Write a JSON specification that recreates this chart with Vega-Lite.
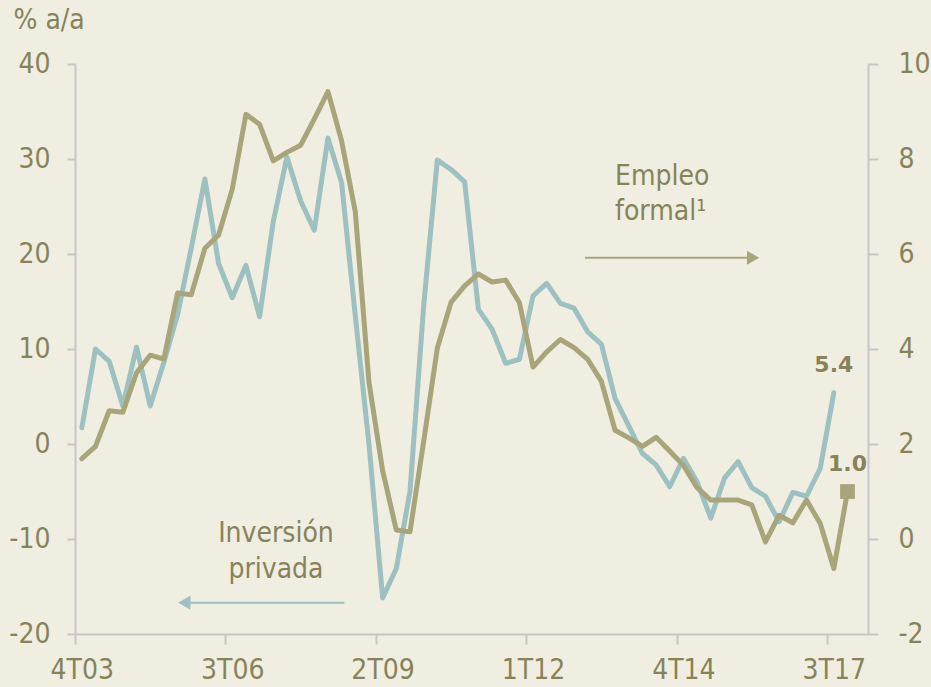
{
  "$schema": "https://vega.github.io/schema/vega-lite/v6.json",
  "width": 793,
  "height": 570,
  "autosize": "none",
  "padding": {"left": 75, "top": 64, "right": 63, "bottom": 53},
  "background": "#F0EEE1",
  "config": {
    "view": {"stroke": null},
    "font": "DejaVu Sans Condensed, DejaVu Sans",
    "axis": {
      "labelFont": "DejaVu Sans Condensed, DejaVu Sans",
      "labelFontSize": 28,
      "labelColor": "#86835A",
      "domainColor": "#C6C6C6",
      "tickColor": "#C6C6C6",
      "domainWidth": 2,
      "tickWidth": 2,
      "grid": false,
      "titleFont": "DejaVu Sans Condensed, DejaVu Sans",
      "titleFontWeight": "normal",
      "titleColor": "#86835A"
    }
  },
  "data": {
    "values": [
      {"q": "4T03", "n": 0, "inv": 1.7, "emp": 1.69},
      {"q": "1T04", "n": 1, "inv": 10.0, "emp": 1.95},
      {"q": "2T04", "n": 2, "inv": 8.7, "emp": 2.7},
      {"q": "3T04", "n": 3, "inv": 4.0, "emp": 2.67},
      {"q": "4T04", "n": 4, "inv": 10.2, "emp": 3.5},
      {"q": "1T05", "n": 5, "inv": 4.0, "emp": 3.87},
      {"q": "2T05", "n": 6, "inv": 8.6, "emp": 3.79},
      {"q": "3T05", "n": 7, "inv": 13.6, "emp": 5.18},
      {"q": "4T05", "n": 8, "inv": 20.6, "emp": 5.14},
      {"q": "1T06", "n": 9, "inv": 27.9, "emp": 6.12},
      {"q": "2T06", "n": 10, "inv": 19.0, "emp": 6.4},
      {"q": "3T06", "n": 11, "inv": 15.4, "emp": 7.36},
      {"q": "4T06", "n": 12, "inv": 18.8, "emp": 8.94},
      {"q": "1T07", "n": 13, "inv": 13.4, "emp": 8.73},
      {"q": "2T07", "n": 14, "inv": 23.4, "emp": 7.96},
      {"q": "3T07", "n": 15, "inv": 30.2, "emp": 8.14},
      {"q": "4T07", "n": 16, "inv": 25.6, "emp": 8.29},
      {"q": "1T08", "n": 17, "inv": 22.5, "emp": 8.84},
      {"q": "2T08", "n": 18, "inv": 32.2, "emp": 9.42},
      {"q": "3T08", "n": 19, "inv": 27.5, "emp": 8.38},
      {"q": "4T08", "n": 20, "inv": 13.5, "emp": 6.89},
      {"q": "1T09", "n": 21, "inv": 0.0, "emp": 3.3},
      {"q": "2T09", "n": 22, "inv": -16.2, "emp": 1.44},
      {"q": "3T09", "n": 23, "inv": -13.1, "emp": 0.19},
      {"q": "4T09", "n": 24, "inv": -5.0, "emp": 0.15},
      {"q": "1T10", "n": 25, "inv": 14.5, "emp": 2.05},
      {"q": "2T10", "n": 26, "inv": 29.9, "emp": 4.02},
      {"q": "3T10", "n": 27, "inv": 28.9, "emp": 4.98},
      {"q": "4T10", "n": 28, "inv": 27.6, "emp": 5.33},
      {"q": "1T11", "n": 29, "inv": 14.2, "emp": 5.58},
      {"q": "2T11", "n": 30, "inv": 12.1, "emp": 5.41},
      {"q": "3T11", "n": 31, "inv": 8.5, "emp": 5.45},
      {"q": "4T11", "n": 32, "inv": 8.9, "emp": 4.98},
      {"q": "1T12", "n": 33, "inv": 15.6, "emp": 3.62},
      {"q": "2T12", "n": 34, "inv": 16.9, "emp": 3.94},
      {"q": "3T12", "n": 35, "inv": 14.8, "emp": 4.2},
      {"q": "4T12", "n": 36, "inv": 14.3, "emp": 4.03},
      {"q": "1T13", "n": 37, "inv": 11.8, "emp": 3.78},
      {"q": "2T13", "n": 38, "inv": 10.5, "emp": 3.32},
      {"q": "3T13", "n": 39, "inv": 4.8, "emp": 2.29},
      {"q": "4T13", "n": 40, "inv": 1.9, "emp": 2.13},
      {"q": "1T14", "n": 41, "inv": -1.0, "emp": 1.95},
      {"q": "2T14", "n": 42, "inv": -2.2, "emp": 2.14},
      {"q": "3T14", "n": 43, "inv": -4.5, "emp": 1.85},
      {"q": "4T14", "n": 44, "inv": -1.5, "emp": 1.55},
      {"q": "1T15", "n": 45, "inv": -4.0, "emp": 1.08},
      {"q": "2T15", "n": 46, "inv": -7.8, "emp": 0.82},
      {"q": "3T15", "n": 47, "inv": -3.6, "emp": 0.82},
      {"q": "4T15", "n": 48, "inv": -1.85, "emp": 0.82},
      {"q": "1T16", "n": 49, "inv": -4.6, "emp": 0.72},
      {"q": "2T16", "n": 50, "inv": -5.5, "emp": -0.06},
      {"q": "3T16", "n": 51, "inv": -8.2, "emp": 0.5},
      {"q": "4T16", "n": 52, "inv": -5.1, "emp": 0.34},
      {"q": "1T17", "n": 53, "inv": -5.5, "emp": 0.82},
      {"q": "2T17", "n": 54, "inv": -2.6, "emp": 0.33},
      {"q": "3T17", "n": 55, "inv": 5.4, "emp": -0.62},
      {"q": "4T17", "n": 56, "inv": null, "emp": 1.0}
    ]
  },
  "layer": [
    {
      "layer": [
        {
          "mark": {"type": "line", "color": "#9DC0C0", "strokeWidth": 5, "strokeCap": "round", "strokeJoin": "round"},
          "encoding": {
            "x": {
              "field": "n", "type": "quantitative",
              "scale": {"domain": [-0.5, 57.5], "nice": false, "zero": false},
              "axis": {
                "title": null,
                "values": [-0.5, 10.5, 21.5, 32.5, 43.5, 54.5],
                "labelExpr": "['4T03','3T06','2T09','1T12','4T14','3T17'][round((datum.value+0.5)/11)]",
                "tickSize": 10,
                "labelOffset": 6.8,
                "labelPadding": 12,
                "labelFlush": false,
                "labelOverlap": false,
                "labelBound": false
              }
            },
            "y": {
              "field": "inv", "type": "quantitative",
              "scale": {"domain": [-20, 40], "nice": false, "zero": false},
              "axis": {
                "orient": "left",
                "values": [-20, -10, 0, 10, 20, 30, 40],
                "labelExpr": "replace(datum.label, '−', '-')",
                "tickSize": 8,
                "labelPadding": 17,
                "title": "% a/a",
                "titleAngle": 0,
                "titleAlign": "left",
                "titleBaseline": "alphabetic",
                "titleFontSize": 28,
                "titleX": -62,
                "titleY": -36
              }
            }
          }
        },
        {
          "transform": [{"filter": "datum.n == 55"}],
          "mark": {"type": "text", "font": "DejaVu Sans", "fontWeight": "bold", "fontSize": 22, "color": "#86835A", "align": "center", "baseline": "alphabetic", "dy": -21},
          "encoding": {
            "x": {"field": "n", "type": "quantitative", "scale": {"domain": [-0.5, 57.5], "nice": false, "zero": false}},
            "y": {"field": "inv", "type": "quantitative"},
            "text": {"field": "inv", "type": "quantitative", "format": ".1f"}
          }
        },
        {
          "data": {"values": [{"label": "Inversión privada"}]},
          "mark": {"type": "rule", "color": "#9DC0C0", "strokeWidth": 2},
          "encoding": {
            "x": {"datum": 7.5, "type": "quantitative"},
            "x2": {"datum": 19.2},
            "y": {"datum": -16.7, "type": "quantitative"}
          }
        },
        {
          "data": {"values": [{"label": "Inversión privada"}]},
          "mark": {"type": "point", "shape": "triangle-left", "filled": true, "color": "#9DC0C0", "opacity": 1, "size": 200},
          "encoding": {
            "x": {"datum": 7.5, "type": "quantitative"},
            "y": {"datum": -16.7, "type": "quantitative"}
          }
        },
        {
          "data": {"values": [{"label": "Inversión privada"}]},
          "mark": {"type": "text", "fontSize": 28, "color": "#86835A", "align": "center", "baseline": "alphabetic", "lineHeight": 36},
          "encoding": {
            "x": {"datum": 14.2, "type": "quantitative"},
            "y": {"datum": -10.3, "type": "quantitative"},
            "text": {"value": ["Inversión", "privada"]}
          }
        }
      ]
    },
    {
      "layer": [
        {
          "mark": {"type": "line", "color": "#A9A57B", "strokeWidth": 5, "strokeCap": "round", "strokeJoin": "round"},
          "encoding": {
            "x": {"field": "n", "type": "quantitative", "scale": {"domain": [-0.5, 57.5], "nice": false, "zero": false}},
            "y": {
              "field": "emp", "type": "quantitative",
              "scale": {"domain": [-2, 10], "nice": false, "zero": false},
              "axis": {
                "orient": "right",
                "values": [-2, 0, 2, 4, 6, 8, 10],
                "labelExpr": "replace(datum.label, '−', '-')",
                "tickSize": 10,
                "labelPadding": 20,
                "title": null
              }
            }
          }
        },
        {
          "transform": [{"filter": "datum.n == 56"}],
          "mark": {"type": "point", "shape": "square", "filled": true, "color": "#A9A57B", "opacity": 1, "size": 220},
          "encoding": {
            "x": {"field": "n", "type": "quantitative"},
            "y": {"field": "emp", "type": "quantitative"}
          }
        },
        {
          "transform": [{"filter": "datum.n == 56"}],
          "mark": {"type": "text", "font": "DejaVu Sans", "fontWeight": "bold", "fontSize": 22, "color": "#86835A", "align": "center", "baseline": "alphabetic", "dy": -21},
          "encoding": {
            "x": {"field": "n", "type": "quantitative"},
            "y": {"field": "emp", "type": "quantitative"},
            "text": {"field": "emp", "type": "quantitative", "format": ".1f"}
          }
        },
        {
          "data": {"values": [{"label": "Empleo formal"}]},
          "mark": {"type": "rule", "color": "#A9A57B", "strokeWidth": 2},
          "encoding": {
            "x": {"datum": 36.8, "type": "quantitative"},
            "x2": {"datum": 49.1},
            "y": {"datum": 5.92, "type": "quantitative"}
          }
        },
        {
          "data": {"values": [{"label": "Empleo formal"}]},
          "mark": {"type": "point", "shape": "triangle-right", "filled": true, "color": "#A9A57B", "opacity": 1, "size": 200},
          "encoding": {
            "x": {"datum": 49.1, "type": "quantitative"},
            "y": {"datum": 5.92, "type": "quantitative"}
          }
        },
        {
          "data": {"values": [{"label": "Empleo formal"}]},
          "mark": {"type": "text", "fontSize": 28, "color": "#86835A", "align": "left", "baseline": "alphabetic", "lineHeight": 35},
          "encoding": {
            "x": {"datum": 39.0, "type": "quantitative"},
            "y": {"datum": 7.45, "type": "quantitative"},
            "text": {"value": ["Empleo", "formal¹"]}
          }
        }
      ]
    }
  ],
  "resolve": {"scale": {"y": "independent"}}
}
